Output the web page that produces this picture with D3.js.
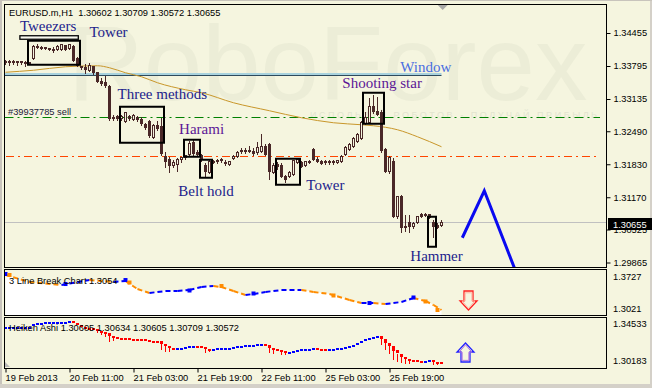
<!DOCTYPE html>
<html>
<head>
<meta charset="utf-8">
<script src="https://cdn.jsdelivr.net/npm/d3@7"></script>
<style>
  html, body { margin: 0; padding: 0; background: #d4d0c8; }
  svg { display: block; font-family: "Liberation Sans", Arial, sans-serif; }
</style>
</head>
<body>
<div id="root"></div>
<script>
// EURUSD H1 candles, 19 Feb 2013 .. 26 Feb 2013
const candleOpen = [
  1.3388,1.3386,1.3388,1.3386,1.3388,1.3386,1.3384,1.3394,1.3418,1.3416,
  1.3414,1.3414,1.3412,1.3412,1.3412,1.3420,1.3414,1.3418,1.3394,1.3378,
  1.3376,1.3370,1.3378,1.3366,1.3348,1.3346,1.3338,1.3274,1.3278,1.3274,
  1.3268,1.3278,1.3272,1.3276,1.3272,1.3262,1.3268,1.3236,1.3260,1.3258,
  1.3198,1.3192,1.3180,1.3182,1.3192,1.3196,1.3202,1.3226,1.3206,1.3200,
  1.3180,1.3166,1.3188,1.3188,1.3190,1.3186,1.3182,1.3194,1.3198,1.3208,
  1.3210,1.3210,1.3208,1.3206,1.3208,1.3218,1.3222,1.3166,1.3182,1.3180,
  1.3158,1.3158,1.3162,1.3186,1.3186,1.3180,1.3188,1.3212,1.3192,1.3188,
  1.3188,1.3186,1.3188,1.3186,1.3188,1.3202,1.3212,1.3218,1.3228,1.3234,
  1.3264,1.3266,1.3298,1.3288,1.3286,1.3212,1.3168,1.3188,1.3078,1.3118,
  1.3058,1.3066,1.3058,1.3066,1.3082,1.3082,1.3082,1.3066,1.3060,1.3060
];
const candleHigh = [
  1.3392,1.3392,1.3392,1.3390,1.3390,1.3390,1.3388,1.3422,1.3424,1.3420,
  1.3418,1.3416,1.3418,1.3422,1.3424,1.3422,1.3424,1.3422,1.3398,1.3380,
  1.3384,1.3386,1.3380,1.3368,1.3356,1.3360,1.3342,1.3282,1.3282,1.3282,
  1.3288,1.3282,1.3284,1.3280,1.3278,1.3266,1.3272,1.3264,1.3270,1.3276,
  1.3208,1.3198,1.3192,1.3196,1.3198,1.3202,1.3230,1.3232,1.3212,1.3204,
  1.3186,1.3192,1.3192,1.3194,1.3196,1.3192,1.3190,1.3202,1.3210,1.3216,
  1.3216,1.3220,1.3216,1.3228,1.3244,1.3224,1.3226,1.3186,1.3188,1.3186,
  1.3162,1.3170,1.3192,1.3194,1.3190,1.3190,1.3192,1.3216,1.3198,1.3192,
  1.3192,1.3192,1.3192,1.3192,1.3202,1.3220,1.3226,1.3238,1.3246,1.3270,
  1.3288,1.3316,1.3322,1.3318,1.3292,1.3216,1.3200,1.3196,1.3120,1.3122,
  1.3082,1.3082,1.3068,1.3080,1.3086,1.3086,1.3084,1.3072,1.3066,1.3071
];
const candleLow = [
  1.3382,1.3380,1.3382,1.3380,1.3382,1.3378,1.3382,1.3392,1.3414,1.3412,
  1.3412,1.3410,1.3406,1.3410,1.3410,1.3410,1.3412,1.3388,1.3378,1.3372,
  1.3364,1.3368,1.3362,1.3346,1.3340,1.3336,1.3270,1.3270,1.3270,1.3270,
  1.3266,1.3270,1.3270,1.3268,1.3260,1.3252,1.3236,1.3234,1.3250,1.3200,
  1.3176,1.3166,1.3176,1.3168,1.3186,1.3192,1.3198,1.3200,1.3198,1.3188,
  1.3156,1.3164,1.3184,1.3184,1.3186,1.3180,1.3180,1.3192,1.3196,1.3204,
  1.3204,1.3206,1.3200,1.3202,1.3206,1.3200,1.3152,1.3164,1.3172,1.3156,
  1.3146,1.3156,1.3160,1.3184,1.3176,1.3178,1.3184,1.3190,1.3186,1.3182,
  1.3182,1.3182,1.3182,1.3184,1.3186,1.3200,1.3210,1.3216,1.3226,1.3232,
  1.3262,1.3264,1.3284,1.3280,1.3206,1.3166,1.3164,1.3076,1.3074,1.3046,
  1.3048,1.3046,1.3054,1.3064,1.3076,1.3078,1.3074,1.3036,1.3054,1.3057
];
const candleClose = [
  1.3386,1.3388,1.3386,1.3388,1.3386,1.3384,1.3386,1.3418,1.3416,1.3414,
  1.3416,1.3412,1.3410,1.3418,1.3422,1.3412,1.3422,1.3390,1.3380,1.3376,
  1.3372,1.3380,1.3366,1.3348,1.3344,1.3340,1.3274,1.3276,1.3274,1.3278,
  1.3286,1.3274,1.3280,1.3272,1.3264,1.3256,1.3240,1.3260,1.3254,1.3204,
  1.3188,1.3180,1.3186,1.3192,1.3196,1.3200,1.3224,1.3204,1.3202,1.3192,
  1.3168,1.3188,1.3186,1.3190,1.3192,1.3184,1.3188,1.3198,1.3206,1.3210,
  1.3208,1.3208,1.3204,1.3216,1.3218,1.3202,1.3168,1.3180,1.3178,1.3158,
  1.3152,1.3166,1.3190,1.3192,1.3178,1.3188,1.3186,1.3192,1.3188,1.3184,
  1.3186,1.3188,1.3186,1.3190,1.3198,1.3216,1.3222,1.3234,1.3242,1.3266,
  1.3276,1.3298,1.3288,1.3282,1.3210,1.3168,1.3196,1.3078,1.3118,1.3056,
  1.3056,1.3058,1.3064,1.3078,1.3078,1.3080,1.3076,1.3058,1.3056,1.3066
];

// moving average (bar index, price)
const maPoints = [
  [0,1.3367],[7,1.3371],[15,1.3378],[23,1.3380],[26,1.3376],[30,1.3366],
  [34,1.3358],[38,1.3346],[45,1.3332],[49,1.3326],[57,1.3306],[66,1.3290],
  [74,1.3276],[82,1.3266],[89,1.3262],[92,1.3260],[98,1.3252],[103,1.3238],[109,1.3218]
];

// Heiken Ashi close per bar; each body runs from the previous close
const haFirstOpen = 1.3378;
const haClose = [
  1.3380,1.3381,1.3382,1.3382,1.3383,1.3383,1.3384,1.3405,1.3415,1.3420,
  1.3422,1.3423,1.3424,1.3426,1.3429,1.3430,1.3432,1.3418,1.3400,1.3385,
  1.3375,1.3372,1.3363,1.3345,1.3336,1.3326,1.3299,1.3290,1.3283,1.3279,
  1.3277,1.3275,1.3274,1.3272,1.3268,1.3263,1.3256,1.3254,1.3252,1.3227,
  1.3209,1.3195,1.3191,1.3192,1.3195,1.3199,1.3206,1.3208,1.3205,1.3198,
  1.3183,1.3181,1.3184,1.3187,1.3189,1.3190,1.3192,1.3200,1.3208,1.3213,
  1.3217,1.3219,1.3220,1.3223,1.3227,1.3220,1.3190,1.3178,1.3172,1.3163,
  1.3155,1.3158,1.3166,1.3174,1.3177,1.3180,1.3182,1.3186,1.3184,1.3182,
  1.3181,1.3182,1.3183,1.3186,1.3191,1.3200,1.3209,1.3222,1.3236,1.3254,
  1.3270,1.3284,1.3294,1.3298,1.3270,1.3236,1.3212,1.3168,1.3140,1.3112,
  1.3093,1.3084,1.3079,1.3077,1.3076,1.3077,1.3078,1.3068,1.3062,1.3061
];
// visible lower wicks of Heiken Ashi bars (bar index, low)
const haWicks = [
  [23,1.3326],[24,1.3308],[25,1.3290],[26,1.3245],[27,1.3254],[39,1.3172],
  [40,1.3154],[41,1.3154],[50,1.3145],[51,1.3154],[66,1.3145],[67,1.3136],
  [69,1.3127],[70,1.3127],[94,1.3218],[95,1.3172],[96,1.3136],[97,1.3082],
  [98,1.3064],[99,1.3055],[100,1.3046],[101,1.3046],[107,1.3037],[108,1.3037]
];

// 3 Line Break line (bar index, value) and its reversal marks
const lbPoints = [
  [0,1.3647],[6,1.3534],[14,1.3486],[21,1.3567],[27,1.3534],[30,1.3550],
  [33,1.3422],[36,1.3358],[40,1.3390],[43,1.3390],[46,1.3406],[49,1.3454],
  [52,1.3470],[54,1.3454],[57,1.3390],[60,1.3326],[62,1.3342],[65,1.3374],
  [69,1.3406],[74,1.3406],[77,1.3374],[81,1.3342],[86,1.3246],[89,1.3197],
  [92,1.3197],[95,1.3181],[99,1.3214],[102,1.3278],[105,1.3230],[107,1.3165],[109,1.3085]
];
const lbMarks = [
  [0,1.3663,"up"],[1,1.3647,"down"],[15,1.3502,"up"],[30,1.3566,"up"],
  [31,1.3526,"down"],[46,1.3398,"up"],[54,1.3470,"down"],[62,1.3350,"up"],
  [82,1.3318,"down"],[91,1.3197,"up"],[102,1.3286,"up"],[105,1.3222,"down"],[108,1.3085,"down"]
];

const yTicks = [1.34455, 1.33795, 1.33135, 1.32490, 1.31830, 1.31170, 1.30525, 1.29865];
const lbRange = [1.3021, 1.3727];
const haRange = [1.30183, 1.34533];
const xTickIndex = [0, 16, 32, 48, 64, 80, 96];
const xTickLabels = ["19 Feb 2013", "20 Feb 11:00", "21 Feb 03:00", "21 Feb 19:00",
  "22 Feb 11:00", "25 Feb 03:00", "25 Feb 19:00"];

const windowLevel = 1.3362;
const sellLevel = 1.3276;
const stopLevel = 1.3198;
const bidLevel = 1.30655;
const lastQuote = [1.30602, 1.30709, 1.30572, 1.30655];

// pattern boxes: [first bar, last bar, top price, bottom price]
const patternBoxes = [
  [6, 19, 1.3430, 1.3382],
  [29, 40, 1.3298, 1.3226],
  [45, 49, 1.3232, 1.3198],
  [49, 52, 1.3192, 1.3156],
  [68, 74, 1.3194, 1.3142],
  [89.75, 95, 1.3326, 1.3264],
  [106, 108, 1.3078, 1.3018]
];
// pattern names: [text, bar, price, kind]
const patternLabels = [
  ["Tweezers", 3.6, 1.3450, "navy"],
  ["Tower", 21, 1.3438, "navy"],
  ["Three methods", 28, 1.3314, "navy"],
  ["Harami", 43.4, 1.3244, "purple"],
  ["Belt hold", 43.2, 1.3120, "navy"],
  ["Tower", 75.2, 1.3132, "navy"],
  ["Shooting star", 84.2, 1.3336, "purple"],
  ["Window", 98.7, 1.3368, "window"],
  ["Hammer", 101.2, 1.2990, "navy"]
];
// forecast zigzag (bar, price)
const forecast = [[114.2, 1.3036], [119.7, 1.3130], [127.5, 1.2970]];

const width = 652;
const height = 388;
const bg = "#f5f5df";
const candleColor = "#4a2828";
const labelColors = { navy: "#22228c", purple: "#5c1696", window: "#4a6ee0" };

const panel = { left: 4.5, right: 606.5 };
const mainTop = 4.5, mainBottom = 267.5;
const lbTop = 269.5, lbBottom = 315.5;
const haTop = 317.5, haBottom = 368.5;

const x = d3.scaleLinear().domain([0, 109]).range([5.5, 441.5]);
const y = d3.scaleLinear().domain([1.29865, 1.34455]).range([262.5, 33]);
const yLb = d3.scaleLinear().domain(lbRange).range([314, 270]);
const yHa = d3.scaleLinear().domain(haRange).range([367, 319]);
const snap = (v) => Math.round(v - 0.5) + 0.5;

const svg = d3.select("#root").append("svg")
  .attr("width", width).attr("height", height)
  .attr("viewBox", `0 0 ${width} ${height}`);

// window background and frame
svg.append("rect").attr("width", width).attr("height", height).attr("fill", bg);
svg.append("rect").attr("x", 0).attr("y", 0).attr("width", 2).attr("height", height).attr("fill", "#c8c4bc");
svg.append("rect").attr("x", 0).attr("y", 384).attr("width", width).attr("height", 4).attr("fill", "#d4d0c8");
svg.append("rect").attr("x", 650).attr("y", 0).attr("width", 2).attr("height", height).attr("fill", "#d4d0c8");
svg.append("rect").attr("x", 0).attr("y", 0).attr("width", width).attr("height", 1).attr("fill", "#c8c4bc");

const defs = svg.append("defs");
defs.append("clipPath").attr("id", "clip-main").append("rect")
  .attr("x", panel.left).attr("y", mainTop).attr("width", panel.right - panel.left).attr("height", mainBottom - mainTop);
defs.append("clipPath").attr("id", "clip-lb").append("rect")
  .attr("x", panel.left).attr("y", lbTop).attr("width", panel.right - panel.left).attr("height", lbBottom - lbTop);
defs.append("clipPath").attr("id", "clip-ha").append("rect")
  .attr("x", panel.left).attr("y", haTop).attr("width", panel.right - panel.left).attr("height", haBottom - haTop);

// ---------- main panel ----------
const main = svg.append("g").attr("clip-path", "url(#clip-main)");

// watermark
main.append("text")
  .attr("x", 68).attr("y", 100)
  .attr("font-size", 105)
  .attr("fill", "#ecedd7")
  .text("RoboForex");
main.append("text")
  .attr("x", 310).attr("y", 118)
  .attr("font-size", 9)
  .attr("fill", "#e2e4cf")
  .attr("textLength", 287).attr("lengthAdjust", "spacing")
  .text("ИСПОЛЬЗУЙ РОБОТОВ - ПОЛУЧАЙ ПРИБЫЛЬ");

// order levels
main.append("line")
  .attr("x1", panel.left).attr("x2", 600)
  .attr("y1", snap(y(sellLevel))).attr("y2", snap(y(sellLevel)))
  .attr("stroke", "#008000").attr("stroke-dasharray", "9,4,2,4");
main.append("line")
  .attr("x1", 6).attr("x2", 600)
  .attr("y1", snap(y(stopLevel))).attr("y2", snap(y(stopLevel)))
  .attr("stroke", "#ff4500").attr("stroke-dasharray", "8,4,2,4");
main.append("line")
  .attr("x1", panel.left).attr("x2", panel.right)
  .attr("y1", snap(y(bidLevel))).attr("y2", snap(y(bidLevel)))
  .attr("stroke", "#c0c0c0");
main.append("text")
  .attr("x", 8).attr("y", snap(y(sellLevel)) - 3)
  .attr("font-size", 9.3).attr("fill", "#202038")
  .text("#39937785 sell");

// window line
main.append("line")
  .attr("x1", panel.left).attr("x2", x(109))
  .attr("y1", y(windowLevel) - 0.7).attr("y2", y(windowLevel) - 0.7)
  .attr("stroke", "#a8d2de").attr("stroke-width", 2);
main.append("line")
  .attr("x1", panel.left).attr("x2", x(109))
  .attr("y1", snap(y(windowLevel)) + 1).attr("y2", snap(y(windowLevel)) + 1)
  .attr("stroke", "#2e4a5c").attr("stroke-width", 1);

// moving average
main.append("path")
  .datum(maPoints)
  .attr("fill", "none")
  .attr("stroke", "#c8962a")
  .attr("stroke-width", 1)
  .attr("d", d3.line().x((d) => x(d[0])).y((d) => y(d[1])).curve(d3.curveMonotoneX));

// candles
const candles = candleOpen.map((o, i) => ({
  i, o, h: candleHigh[i], l: candleLow[i], c: candleClose[i]
}));
const candleGroup = main.append("g").attr("shape-rendering", "crispEdges");
candleGroup.selectAll("line")
  .data(candles)
  .join("line")
  .attr("x1", (d) => x(d.i)).attr("x2", (d) => x(d.i))
  .attr("y1", (d) => Math.round(y(d.h))).attr("y2", (d) => Math.round(y(d.l)))
  .attr("stroke", candleColor);
candleGroup.selectAll("rect")
  .data(candles)
  .join("rect")
  .attr("x", (d) => x(d.i) - 1)
  .attr("y", (d) => snap(y(Math.max(d.o, d.c))))
  .attr("width", 2)
  .attr("height", (d) => Math.max(1, Math.round(Math.abs(y(d.o) - y(d.c)))))
  .attr("fill", (d) => (d.c > d.o ? bg : candleColor))
  .attr("stroke", candleColor);

// pattern boxes
main.append("g").selectAll("rect")
  .data(patternBoxes)
  .join("rect")
  .attr("x", (d) => x(d[0]) - 1.5)
  .attr("y", (d) => y(d[2]))
  .attr("width", (d) => x(d[1]) - x(d[0]))
  .attr("height", (d) => y(d[3]) - y(d[2]))
  .attr("fill", "none")
  .attr("stroke", "#000")
  .attr("stroke-width", 2);
// tweezers bar
main.append("rect")
  .attr("x", x(3.6)).attr("y", y(1.3440))
  .attr("width", x(18.2) - x(3.6)).attr("height", y(1.3433) - y(1.3440))
  .attr("fill", "#f8f8f0").attr("stroke", "#000").attr("stroke-width", 1.3);

main.append("g").selectAll("text")
  .data(patternLabels)
  .join("text")
  .attr("x", (d) => x(d[1]))
  .attr("y", (d) => y(d[2]))
  .attr("font-family", "'Liberation Serif', 'Times New Roman', serif")
  .attr("font-size", 15)
  .attr("fill", (d) => labelColors[d[3]])
  .text((d) => d[0]);

// forecast zigzag
main.append("path")
  .datum(forecast)
  .attr("fill", "none")
  .attr("stroke", "#0a0af0")
  .attr("stroke-width", 3)
  .attr("d", d3.line().x((d) => x(d[0])).y((d) => y(d[1])));

// shift marker
svg.append("path")
  .attr("d", `M${x(109.3) - 5},5 L${x(109.3) + 5},5 L${x(109.3)},10 Z`)
  .attr("fill", "#a8a8a8");

// title
svg.append("text")
  .attr("x", 9).attr("y", 16)
  .attr("font-size", 9.3).attr("fill", "#000")
  .attr("xml:space", "preserve")
  .text("EURUSD.m,H1  " + lastQuote.map((v) => v.toFixed(5)).join(" "));

// ---------- 3 Line Break panel ----------
const lb = svg.append("g").attr("clip-path", "url(#clip-lb)");
lb.append("path")
  .datum(lbPoints)
  .attr("fill", "#ffffff")
  .attr("d", d3.area().x((d) => x(d[0])).y0(lbBottom).y1((d) => yLb(d[1])).curve(d3.curveMonotoneX));
const lbSegments = d3.pairs(lbPoints);
lb.append("g").selectAll("path")
  .data(lbSegments)
  .join("path")
  .attr("fill", "none")
  .attr("stroke", (d) => (d[1][1] < d[0][1] ? "#ff8c00" : "#0000ff"))
  .attr("stroke-width", 2)
  .attr("stroke-dasharray", "5,3")
  .attr("d", (d) => d3.line().x((p) => x(p[0])).y((p) => yLb(p[1]))(d));
lb.append("g").selectAll("rect")
  .data(lbMarks)
  .join("rect")
  .attr("x", (d) => x(d[0]) - 2)
  .attr("y", (d) => yLb(d[1]) - 2)
  .attr("width", 4).attr("height", 4)
  .attr("fill", (d) => (d[2] === "up" ? "#0000ff" : "#ff8c00"));
svg.append("text")
  .attr("x", 9).attr("y", 283.5)
  .attr("font-size", 9.3)
  .text("3 Line Break Chart 1.3054");

// ---------- Heiken Ashi panel ----------
const ha = svg.append("g").attr("clip-path", "url(#clip-ha)").attr("shape-rendering", "crispEdges");
const haBars = haClose.map((c, i) => ({ i, o: i === 0 ? haFirstOpen : haClose[i - 1], c }));
const haColor = (d) => (d.c < d.o ? "#ff0000" : "#0000ff");
ha.append("g").selectAll("line")
  .data(haWicks)
  .join("line")
  .attr("x1", (d) => x(d[0])).attr("x2", (d) => x(d[0]))
  .attr("y1", (d) => yHa(haBars[d[0]].c)).attr("y2", (d) => yHa(d[1]))
  .attr("stroke", "#ff0000");
ha.append("g").selectAll("rect")
  .data(haBars)
  .join("rect")
  .attr("x", (d) => x(d.i) - 1.5)
  .attr("y", (d) => Math.round(yHa(Math.max(d.o, d.c))))
  .attr("width", 3)
  .attr("height", (d) => Math.max(1.5, Math.round(Math.abs(yHa(d.o) - yHa(d.c)))))
  .attr("fill", haColor);
svg.append("text")
  .attr("x", 9).attr("y", 330.5)
  .attr("font-size", 9.3)
  .text("Heiken Ashi " + [1.30605, 1.30634, 1.30605, 1.30709, 1.30572].map((v) => v.toFixed(5)).join(" "));
svg.append("path")
  .attr("d", "M5,367 L5,362 L10,367 Z")
  .attr("fill", "#b8b8b8");

// signal arrows
const downArrow = [[-4.5,0],[4.5,0],[4.5,10],[8.5,10],[0,19],[-8.5,10],[-4.5,10]];
const upArrow = [[0,0],[8.5,9],[4.5,9],[4.5,19],[-4.5,19],[-4.5,9],[-8.5,9]];
const drawArrow = (shape, cx, top, outer, inner) => {
  const g = svg.append("g").attr("transform", `translate(${cx},${top})`);
  g.append("polygon")
    .attr("points", shape.map((p) => p.join(",")).join(" "))
    .attr("fill", "none").attr("stroke", outer).attr("stroke-width", 1.3);
  g.append("polygon")
    .attr("points", shape.map((p) => [p[0] * 0.75, p[1] * 0.82 + 1.8].join(",")).join(" "))
    .attr("fill", "none").attr("stroke", inner).attr("stroke-width", 1);
};
drawArrow(downArrow, x(115.75), 291, "#ff2020", "#ffb4a0");
drawArrow(upArrow, x(115), 343, "#2020ff", "#b070e0");

// ---------- panel borders ----------
[[mainTop, mainBottom], [lbTop, lbBottom], [haTop, haBottom]].forEach(([t, b]) => {
  svg.append("rect")
    .attr("x", panel.left).attr("y", t)
    .attr("width", panel.right - panel.left).attr("height", b - t)
    .attr("fill", "none").attr("stroke", "#000");
});

// ---------- price axis ----------
const yAxis = svg.append("g")
  .attr("transform", `translate(${panel.right},0)`)
  .call(d3.axisRight(y).tickValues(yTicks).tickFormat(d3.format(".5f")).tickSize(4).tickPadding(3))
  .attr("font-family", "inherit")
  .attr("font-size", 9.3);
yAxis.select(".domain").remove();
yAxis.selectAll("text").attr("fill", "#000");

// current price tag
svg.append("rect")
  .attr("x", 608).attr("y", 218).attr("width", 44).attr("height", 12)
  .attr("fill", "#000");
svg.append("text")
  .attr("x", 613).attr("y", 227.5)
  .attr("font-size", 9.3).attr("fill", "#fff")
  .text(bidLevel.toFixed(5));

// sub-panel scales
const subLabels = [
  [lbRange[1].toFixed(4), lbTop + 10], [lbRange[0].toFixed(4), lbBottom - 3.5],
  [haRange[1].toFixed(5), haTop + 9], [haRange[0].toFixed(5), haBottom - 4.5]
];
svg.append("g").selectAll("text")
  .data(subLabels)
  .join("text")
  .attr("x", 613).attr("y", (d) => d[1])
  .attr("font-size", 9.3)
  .text((d) => d[0]);

// ---------- time axis ----------
const xAxis = svg.append("g")
  .attr("transform", `translate(0,${haBottom})`)
  .call(d3.axisBottom(x).tickValues(xTickIndex)
    .tickFormat((d, i) => xTickLabels[i]).tickSize(4).tickPadding(2))
  .attr("font-family", "inherit")
  .attr("font-size", 9.3);
xAxis.select(".domain").remove();
xAxis.selectAll("text").attr("text-anchor", "start").attr("fill", "#000").attr("dx", -0.5);
</script>
</body>
</html>
